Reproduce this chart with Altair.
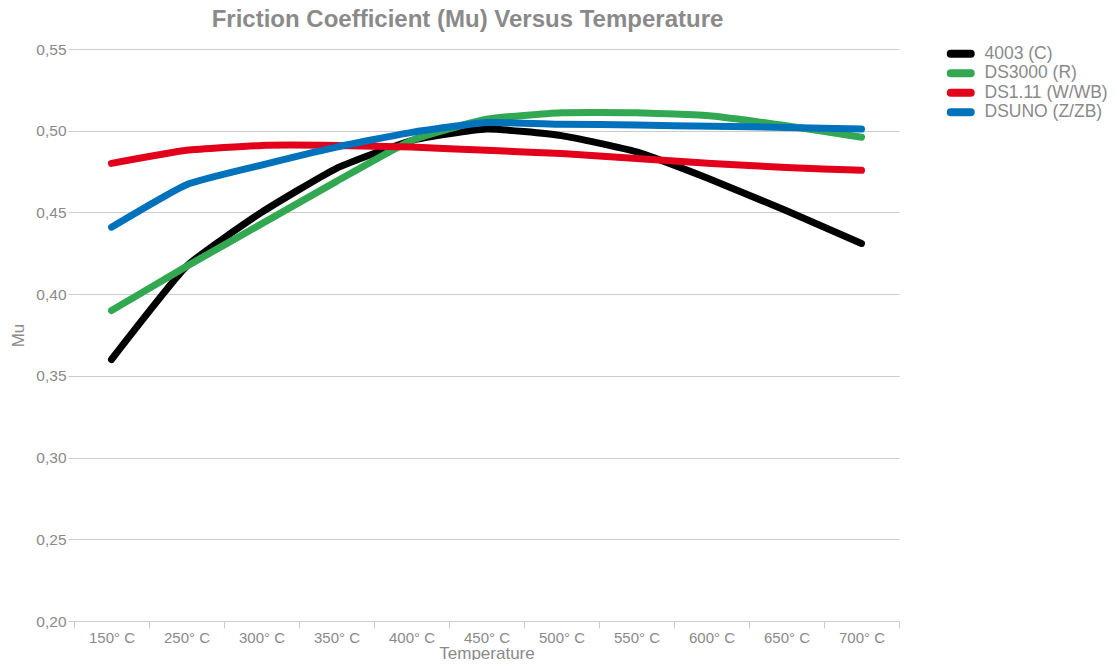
import altair as alt
import pandas as pd

temps = ["150° C", "250° C", "300° C", "350° C", "400° C", "450° C",
         "500° C", "550° C", "600° C", "650° C", "700° C"]
series_names = ["4003 (C)", "DS3000 (R)", "DS1.11 (W/WB)", "DSUNO (Z/ZB)"]
colors = ["#000000", "#33a852", "#e2001a", "#0071bb"]

mu_4003 = [0.360, 0.417, 0.450, 0.477, 0.494, 0.501, 0.497, 0.487, 0.470, 0.451, 0.431]
mu_ds3000 = [0.390, 0.417, 0.443, 0.469, 0.494, 0.507, 0.511, 0.511, 0.509, 0.503, 0.496]
mu_ds111 = [0.480, 0.488, 0.491, 0.491, 0.490, 0.488, 0.486, 0.483, 0.480, 0.4775, 0.4758]
mu_dsuno = [0.441, 0.467, 0.479, 0.490, 0.499, 0.505, 0.504, 0.5035, 0.5027, 0.502, 0.501]

values = [mu_4003, mu_ds3000, mu_ds111, mu_dsuno]
rows = []
for name, vals in zip(series_names, values):
    for t, v in zip(temps, vals):
        rows.append({"Temperature": t, "Mu": v, "series": name})
df = pd.DataFrame(rows)

grey = "#8a8a8a"
font = "Liberation Sans"
pill = "M-2,-0.4H2A0.4,0.4,0,0,1,2,0.4H-2A0.4,0.4,0,0,1,-2,-0.4Z"

chart = alt.Chart(df).mark_line(
    strokeWidth=7, strokeCap="round", strokeJoin="round",
    interpolate="cardinal", tension=0.55
).encode(
    x=alt.X("Temperature:N", sort=temps,
            scale=alt.Scale(paddingInner=0, paddingOuter=0),
            axis=alt.Axis(title="Temperature", labelAngle=0, tickBand="extent",
                          domainColor="#cccccc", tickColor="#cccccc", tickSize=7,
                          labelColor=grey, labelFontSize=15, labelFont=font,
                          labelPadding=2, titleColor=grey, titleFontSize=17,
                          titleFont=font, titleFontWeight="normal", titlePadding=0,
                          grid=False)),
    y=alt.Y("Mu:Q", scale=alt.Scale(domain=[0.20, 0.55], nice=False, zero=False),
            axis=alt.Axis(title="Mu", values=[0.20, 0.25, 0.30, 0.35, 0.40, 0.45, 0.50, 0.55],
                          labelExpr="replace(format(datum.value, '.2f'), '.', ',')",
                          domain=False, tickColor="#cccccc", tickSize=6,
                          gridColor="#cccccc", gridWidth=1.2,
                          labelColor=grey, labelFontSize=15.5, labelFont=font,
                          labelPadding=2, titleColor=grey, titleFontSize=17,
                          titleFont=font, titleFontWeight="normal", titlePadding=8)),
    color=alt.Color("series:N", sort=series_names,
                    scale=alt.Scale(domain=series_names, range=colors),
                    legend=alt.Legend(title=None, orient="none", legendX=878, legendY=-4,
                                      padding=0, symbolType=pill, symbolStrokeWidth=4,
                                      symbolSize=100, labelFontSize=17.5, labelFont=font,
                                      labelColor=grey, rowPadding=-1.5, labelOffset=15)),
    order=alt.Order("series_order:Q"),
).transform_calculate(
    series_order="indexof(['DS3000 (R)','4003 (C)','DS1.11 (W/WB)','DSUNO (Z/ZB)'], datum.series)"
).properties(
    width=825, height=572,
    title=alt.Title("Friction Coefficient (Mu) Versus Temperature", fontSize=24,
                    font=font, fontWeight="bold", color=grey, anchor="middle",
                    dx=-19, offset=10),
    autosize=alt.AutoSizeParams(type="none"),
    padding={"left": 66, "top": 41, "right": 208, "bottom": 39},
).configure_view(stroke=None)

chart.save("out.html", embed_options={"renderer": "svg", "actions": False})
